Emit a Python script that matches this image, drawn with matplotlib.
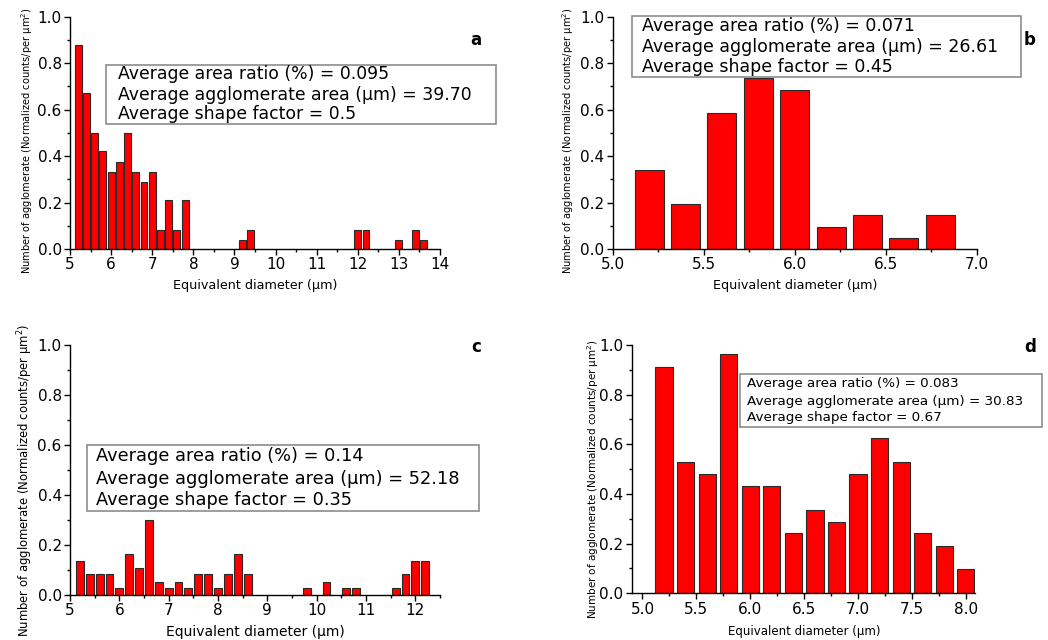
import numpy as np
import matplotlib
matplotlib.use("Agg")
import matplotlib.pyplot as plt
from matplotlib.patches import Rectangle
from matplotlib.ticker import MultipleLocator

W, H = 1048, 640

# --- histogram data (bin centre, normalized count) ---
a_centers = [5.2, 5.4, 5.6, 5.8, 6.0, 6.2, 6.4, 6.6, 6.8, 7.0, 7.2, 7.4, 7.6, 7.8,
             9.2, 9.4, 12.0, 12.2, 13.0, 13.4, 13.6]
a_values = [0.88, 0.67, 0.50, 0.42, 0.33, 0.375, 0.50, 0.33, 0.29, 0.33, 0.083, 0.21, 0.083, 0.21,
            0.04, 0.083, 0.083, 0.083, 0.04, 0.083, 0.04]

b_centers = [5.2, 5.4, 5.6, 5.8, 6.0, 6.2, 6.4, 6.6, 6.8]
b_values = [0.34, 0.195, 0.585, 0.735, 0.685, 0.096, 0.145, 0.047, 0.145]

c_centers = [5.2, 5.4, 5.6, 5.8, 6.0, 6.2, 6.4, 6.6, 6.8, 7.0, 7.2, 7.4, 7.6, 7.8, 8.0, 8.2, 8.4, 8.6,
             9.8, 10.2, 10.6, 10.8, 11.6, 11.8, 12.0, 12.2]
c_values = [0.137, 0.083, 0.083, 0.083, 0.028, 0.163, 0.109, 0.30, 0.054, 0.028, 0.054, 0.028, 0.083,
            0.083, 0.028, 0.083, 0.163, 0.083, 0.028, 0.054, 0.028, 0.028, 0.028, 0.083, 0.137, 0.137]

d_centers = [5.2, 5.4, 5.6, 5.8, 6.0, 6.2, 6.4, 6.6, 6.8, 7.0, 7.2, 7.4, 7.6, 7.8, 8.0]
d_values = [0.913, 0.53, 0.48, 0.962, 0.432, 0.432, 0.242, 0.336, 0.287, 0.48, 0.627, 0.53, 0.242, 0.192, 0.097]

a_stats = ["Average area ratio (%) = 0.095", "Average agglomerate area (\u03bcm) = 39.70",
           "Average shape factor = 0.5"]
b_stats = ["Average area ratio (%) = 0.071", "Average agglomerate area (\u03bcm) = 26.61",
           "Average shape factor = 0.45"]
c_stats = ["Average area ratio (%) = 0.14", "Average agglomerate area (\u03bcm) = 52.18",
           "Average shape factor = 0.35"]
d_stats = ["Average area ratio (%) = 0.083", "Average agglomerate area (\u03bcm) = 30.83",
           "Average shape factor = 0.67"]

ylab = "Number of agglomerate (Normalized counts/per \u03bcm$^2$)"
xlab = "Equivalent diameter (\u03bcm)"

plt.rcParams["font.family"] = "DejaVu Sans"

fig = plt.figure(figsize=(W / 100, H / 100), dpi=100)


def px(x, y):
    return x / W, 1 - y / H


def make_axes(l, t, r, b):
    return fig.add_axes([l / W, 1 - b / H, (r - l) / W, (b - t) / H])


def style(ax, xlim, major, minor, fs):
    ax.set_xlim(*xlim)
    ax.set_ylim(0, 1.0)
    ax.xaxis.set_major_locator(MultipleLocator(major))
    ax.xaxis.set_minor_locator(MultipleLocator(minor))
    ax.yaxis.set_major_locator(MultipleLocator(0.2))
    ax.yaxis.set_minor_locator(MultipleLocator(0.1))
    ax.yaxis.set_major_formatter(matplotlib.ticker.FormatStrFormatter("%.1f"))
    for s in ["top", "right"]:
        ax.spines[s].set_visible(False)
    for s in ["left", "bottom"]:
        ax.spines[s].set_linewidth(1.0)
    ax.tick_params(which="major", direction="out", length=4, width=1, labelsize=fs,
                   colors="black", pad=2)
    ax.tick_params(which="minor", direction="out", length=2.5, width=1)


def stats_box(box, x0, ys, lines, fs):
    l, t, r, b = box
    fig.patches.append(Rectangle(px(l, b), (r - l) / W, (b - t) / H, transform=fig.transFigure,
                                 fill=False, edgecolor="#8c8c8c", linewidth=1.2))
    for y, s in zip(ys, lines):
        fig.text(*px(x0, y), s, fontsize=fs, ha="left", va="center")


bar_kw = dict(color="#ff0000", edgecolor="#2a2a2a", linewidth=0.8)

# panel a
ax_a = make_axes(70, 16.7, 440, 249)
ax_a.bar(a_centers, a_values, width=0.17, **bar_kw)
style(ax_a, (5, 14), 1, 0.5, 11)
stats_box((106, 65, 496, 124), 118, [74, 95, 114], a_stats, 12.4)
fig.text(*px(476, 40), "a", fontsize=12, fontweight="bold", ha="center", va="center")
fig.text(*px(255, 285), xlab, fontsize=9.2, ha="center", va="center")
fig.text(*px(27, 141), ylab, fontsize=7.1, rotation=90, ha="center", va="center")

# panel b
ax_b = make_axes(612.7, 16.7, 976.7, 249)
ax_b.bar(b_centers, b_values, width=0.16, **bar_kw)
style(ax_b, (5, 7), 0.5, 0.25, 11)
stats_box((632, 16, 1021, 77), 642, [26, 47, 67], b_stats, 12.5)
fig.text(*px(1030, 40), "b", fontsize=12, fontweight="bold", ha="center", va="center")
fig.text(*px(795, 285), xlab, fontsize=9.2, ha="center", va="center")
fig.text(*px(568, 141), ylab, fontsize=7.1, rotation=90, ha="center", va="center")

# panel c
ax_c = make_axes(70, 345, 440, 595)
ax_c.bar(c_centers, c_values, width=0.16, **bar_kw)
style(ax_c, (5, 12.5), 1, 0.5, 11)
stats_box((87, 445, 479, 511), 96, [456, 479, 500], c_stats, 12.8)
fig.text(*px(476, 347), "c", fontsize=12, fontweight="bold", ha="center", va="center")
fig.text(*px(255, 632), xlab, fontsize=10, ha="center", va="center")
fig.text(*px(25, 480), ylab, fontsize=8.4, rotation=90, ha="center", va="center")

# panel d
ax_d = make_axes(631.7, 345, 975, 593.3)
ax_d.bar(d_centers, d_values, width=0.16, **bar_kw)
style(ax_d, (4.9, 8.085), 0.5, 0.25, 11)
stats_box((740, 374, 1042, 427), 747, [383, 401, 418], d_stats, 9.7)
fig.text(*px(1030, 347), "d", fontsize=12, fontweight="bold", ha="center", va="center")
fig.text(*px(804, 632), xlab, fontsize=8.5, ha="center", va="center")
fig.text(*px(593, 479), ylab, fontsize=7.5, rotation=90, ha="center", va="center")

fig.savefig("out.png", dpi=100)
